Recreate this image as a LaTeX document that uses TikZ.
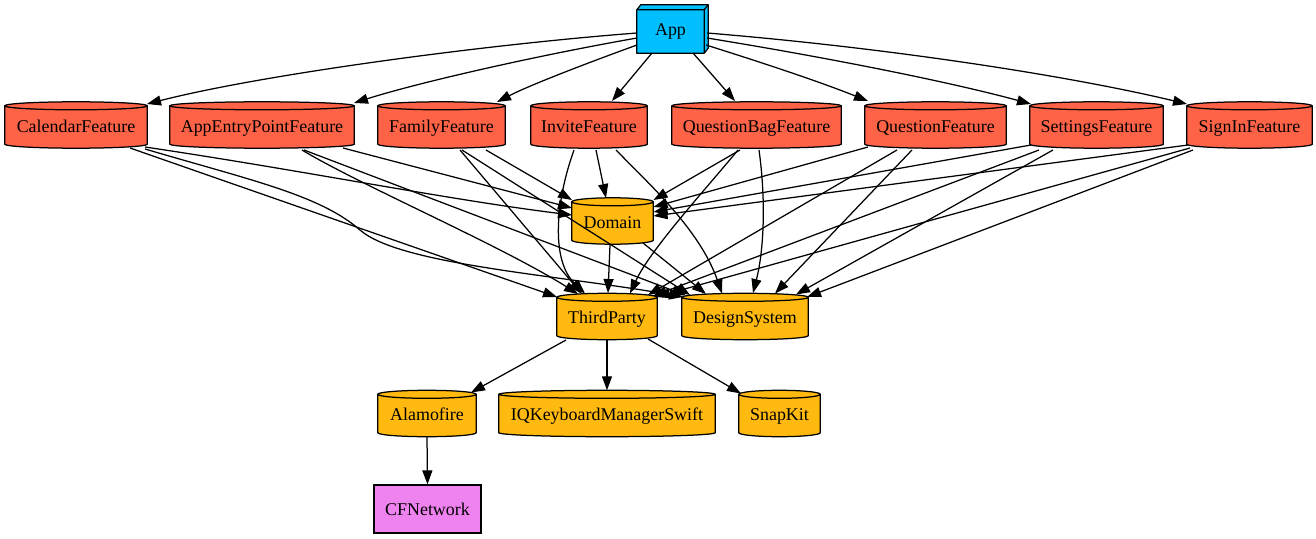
\documentclass[tikz,border=0pt]{standalone}
\usepackage{fontspec}
\setmainfont{Liberation Serif}
\usetikzlibrary{arrows.meta,calc,backgrounds}
\definecolor{tomatoc}{HTML}{FF6347}
\definecolor{goldc}{HTML}{FFB90F}
\definecolor{skyc}{HTML}{00BFFF}
\definecolor{violetc}{HTML}{EE82EE}
\newcommand\cylback[2]{%
  \path[draw=black, fill=#2, line width=1.25bp]
    let \p1=(#1.north west), \p2=(#1.south east), \n1={(\x2-\x1)/2} in
    (\x1,{\y1-4bp}) -- (\x1,{\y2+4bp})
    arc[start angle=180, end angle=360, x radius=\n1, y radius=4bp]
    -- (\x2,{\y1-4bp})
    arc[start angle=0, end angle=180, x radius=\n1, y radius=4bp]
    -- cycle
    (\x1,{\y1-4bp}) arc[start angle=180, end angle=360, x radius=\n1, y radius=4bp];}
\tikzset{
  lbl/.style={inner sep=0pt, font=\fontsize{18}{21}\selectfont, minimum height=46bp,
    text height=17.5bp, text depth=3bp},
  e/.style={draw, line width=1.25bp, -{Triangle[length=14bp,width=10bp]}},
}
\begin{document}
\begin{tikzpicture}[x=1bp, y=-1bp]
\useasboundingbox (0,0) rectangle (1316,539);
% nodes
\node[lbl, minimum width=67bp, minimum height=43bp, text height=12bp] (app) at (670.5,31.5) {App};
\node[lbl, minimum width=142bp] (cal) at (76,125) {CalendarFeature};
\node[lbl, minimum width=184bp] (aep) at (262,125) {AppEntryPointFeature};
\node[lbl, minimum width=127bp] (fam) at (441.5,125) {FamilyFeature};
\node[lbl, minimum width=116bp] (inv) at (589,125) {InviteFeature};
\node[lbl, minimum width=169bp] (qb) at (756.5,125) {QuestionBagFeature};
\node[lbl, minimum width=141bp] (qf) at (935.5,125) {QuestionFeature};
\node[lbl, minimum width=133bp] (set) at (1096.5,125) {SettingsFeature};
\node[lbl, minimum width=125bp] (sig) at (1249.5,125) {SignInFeature};
\node[lbl, minimum width=81bp] (dom) at (612.5,221) {Domain};
\node[lbl, minimum width=100bp] (tp) at (607,316.5) {ThirdParty};
\node[lbl, minimum width=126bp] (ds) at (745,316.5) {DesignSystem};
\node[lbl, minimum width=98bp] (ala) at (427,413.5) {Alamofire};
\node[lbl, minimum width=216bp] (iqk) at (607,413.5) {IQKeyboardManagerSwift};
\node[lbl, minimum width=81bp] (snp) at (779.5,413.5) {SnapKit};
\node[lbl, minimum width=107bp, minimum height=48bp, text height=15bp, draw, fill=violetc, line width=1.25bp] (cfn) at (427.5,509) {CFNetwork};
% shapes behind the texts
\begin{pgfonlayer}{background}
\fill[white] (0,0) rectangle (1316,539);
\path[draw, fill=skyc, line width=1.25bp, line join=round]
  (app.north west) -- ++(4bp,5bp) -- ([shift={(4bp,5bp)}]app.north east)
  -- ([shift={(4bp,5bp)}]app.south east) -- (app.south east) -- (app.south west) -- cycle;
\draw[line width=1.25bp, line join=round] (app.north west) -- (app.north east) -- (app.south east)
  (app.north east) -- ++(4bp,5bp);
\cylback{cal}{tomatoc}
\cylback{aep}{tomatoc}
\cylback{fam}{tomatoc}
\cylback{inv}{tomatoc}
\cylback{qb}{tomatoc}
\cylback{qf}{tomatoc}
\cylback{set}{tomatoc}
\cylback{sig}{tomatoc}
\cylback{dom}{goldc}
\cylback{tp}{goldc}
\cylback{ds}{goldc}
\cylback{ala}{goldc}
\cylback{iqk}{goldc}
\cylback{snp}{goldc}
\end{pgfonlayer}
% App edges
\draw[e] ([shift={(-33.5,1.5)}]app.center) .. controls (480,45) and (260,75) .. ([shift={(71,-21)}]cal.center);
\draw[e] ([shift={(-33.5,6.5)}]app.center) .. controls (540,55) and (420,82) .. ([shift={(92,-22)}]aep.center);
\draw[e] ([shift={(-33.5,13.5)}]app.center) .. controls (590,62) and (530,85) .. ([shift={(55.5,-23)}]fam.center);
\draw[e] ([shift={(-18.5,21.5)}]app.center) -- ([shift={(23,-24)}]inv.center);
\draw[e] ([shift={(22.5,21.5)}]app.center) -- ([shift={(-21.5,-24)}]qb.center);
\draw[e] ([shift={(35.5,13.5)}]app.center) .. controls (760,62) and (815,80) .. ([shift={(-67.5,-24)}]qf.center);
\draw[e] ([shift={(36.5,6.5)}]app.center) .. controls (830,58) and (950,82) .. ([shift={(-65.5,-21)}]set.center);
\draw[e] ([shift={(36.5,1.5)}]app.center) .. controls (890,48) and (1070,76) .. ([shift={(-62.5,-21)}]sig.center);
% features -> Domain
\draw[e] ([shift={(69,22)}]cal.center) .. controls (300,170) and (450,200) .. ([shift={(-40.5,-6)}]dom.center);
\draw[e] ([shift={(81,23)}]aep.center) -- ([shift={(-40.5,-13)}]dom.center);
\draw[e] ([shift={(44.5,25)}]fam.center) -- ([shift={(-40.5,-21)}]dom.center);
\draw[e] ([shift={(7,25)}]inv.center) -- ([shift={(-6.5,-23)}]dom.center);
\draw[e] ([shift={(-16.5,25)}]qb.center) -- ([shift={(41,-21)}]dom.center);
\draw[e] ([shift={(-67.5,22)}]qf.center) -- ([shift={(41,-14)}]dom.center);
\draw[e] ([shift={(-65.5,20)}]set.center) -- ([shift={(41,-9)}]dom.center);
\draw[e] ([shift={(-61.5,20)}]sig.center) -- ([shift={(41,-5)}]dom.center);
% features -> ThirdParty
\draw[e] ([shift={(54,23)}]cal.center) -- ([shift={(-50,-19.5)}]tp.center);
\draw[e] ([shift={(40,25)}]aep.center) .. controls (360,185) and (500,245) .. ([shift={(-29,-22.5)}]tp.center);
\draw[e] ([shift={(18.5,25)}]fam.center) -- ([shift={(-25,-22.5)}]tp.center);
\draw[e] ([shift={(-15,25)}]inv.center) .. controls (556,200) and (550,260) .. ([shift={(-22,-23)}]tp.center);
\draw[e] ([shift={(-2.5,24)}]dom.center) -- ([shift={(1,-23.5)}]tp.center);
\draw[e] ([shift={(-18.5,25)}]qb.center) .. controls (705,190) and (650,250) .. ([shift={(23,-23)}]tp.center);
\draw[e] ([shift={(-38.5,25)}]qf.center) -- ([shift={(41,-21.5)}]tp.center);
\draw[e] ([shift={(-57.5,25)}]set.center) -- ([shift={(46,-20.5)}]tp.center);
\draw[e] ([shift={(-59.5,23)}]sig.center) -- ([shift={(49,-19.5)}]tp.center);
% features -> DesignSystem
\draw[e] ([shift={(69,24)}]cal.center) .. controls (250,180) and (320,195) .. (360,230) .. controls (400,265) and (560,275) .. ([shift={(-62,-19.5)}]ds.center);
\draw[e] ([shift={(42,25)}]aep.center) -- ([shift={(-59,-21)}]ds.center);
\draw[e] ([shift={(20.5,25)}]fam.center) -- ([shift={(-55,-21.5)}]ds.center);
\draw[e] ([shift={(27,25)}]inv.center) .. controls (650,185) and (700,230) .. ([shift={(-23,-23)}]ds.center);
\draw[e] ([shift={(30.5,22)}]dom.center) -- ([shift={(-39,-22.5)}]ds.center);
\draw[e] ([shift={(2.5,25)}]qb.center) .. controls (766,200) and (764,250) .. ([shift={(8,-23.5)}]ds.center);
\draw[e] ([shift={(-23.5,25)}]qf.center) -- ([shift={(30,-23)}]ds.center);
\draw[e] ([shift={(-43.5,25)}]set.center) -- ([shift={(51,-22)}]ds.center);
\draw[e] ([shift={(-56.5,25)}]sig.center) -- ([shift={(62,-19.5)}]ds.center);
% lower part
\draw[e] ([shift={(-41,23.5)}]tp.center) -- ([shift={(44,-21)}]ala.center);
\draw[e] (tp.south) -- (iqk.north);
\draw[e] ([shift={(41,22.5)}]tp.center) -- ([shift={(-38.5,-20)}]snp.center);
\draw[e] (ala.south) -- (cfn.north);
\end{tikzpicture}
\end{document}
